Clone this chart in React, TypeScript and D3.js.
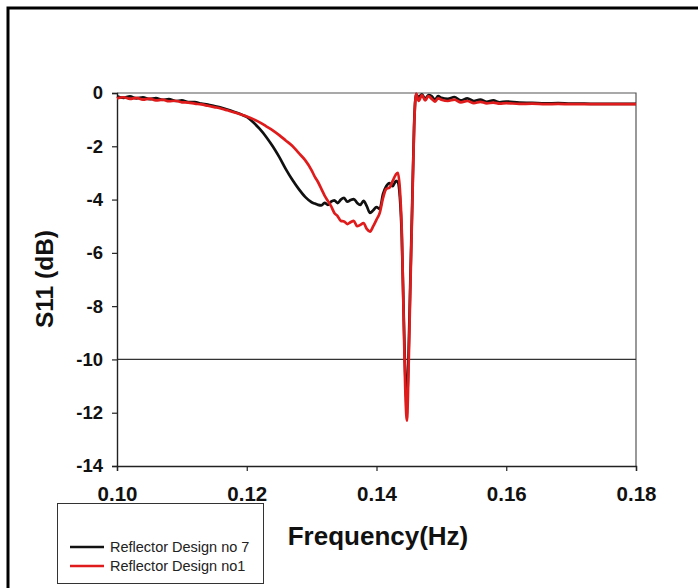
import React, { useEffect, useRef } from 'react';
import * as d3 from 'd3';

// frequency samples (Hz), shared by both series
const freq = [
  0.100, 0.101, 0.102, 0.103, 0.104, 0.105, 0.106, 0.107, 0.108, 0.109, 0.110,
  0.111, 0.112, 0.113, 0.114, 0.115, 0.116, 0.117, 0.118, 0.119, 0.120,
  0.121, 0.122, 0.123, 0.124, 0.125, 0.126, 0.127, 0.128, 0.129, 0.130,
  0.1305, 0.131, 0.1315, 0.132, 0.1325, 0.133, 0.1335, 0.134, 0.1345, 0.135, 0.1355, 0.136, 0.1365,
  0.137, 0.1375, 0.138, 0.1385, 0.139, 0.1395, 0.140, 0.1405, 0.141, 0.1415, 0.142, 0.1425,
  0.1430, 0.1433, 0.1436, 0.1439, 0.1442, 0.1445, 0.1447, 0.1449, 0.1452, 0.1455, 0.1458, 0.1461, 0.1465,
  0.147, 0.1475, 0.148, 0.1485, 0.149, 0.1495, 0.150,
  0.151, 0.152, 0.153, 0.154, 0.155, 0.156, 0.157, 0.158, 0.159, 0.160,
  0.162, 0.164, 0.166, 0.168, 0.170, 0.172, 0.174, 0.176, 0.178, 0.180,
];

// S11 (dB) - Reflector Design no 7
const design7 = [
  -0.12, -0.18, -0.13, -0.20, -0.16, -0.23, -0.19, -0.26, -0.23, -0.30, -0.28,
  -0.34, -0.34, -0.40, -0.43, -0.49, -0.55, -0.62, -0.70, -0.79, -0.90,
  -1.10, -1.35, -1.65, -2.00, -2.40, -2.85, -3.25, -3.60, -3.90, -4.10,
  -4.15, -4.20, -4.22, -4.12, -4.20, -4.08, -4.03, -4.13, -4.00, -3.94, -4.08, -4.02, -3.98,
  -4.12, -4.20, -4.05, -4.25, -4.50, -4.40, -4.28, -4.35, -3.80, -3.50, -3.38, -3.50,
  -3.30, -3.35, -3.90, -5.40, -8.40, -11.0, -11.6, -10.2, -7.2, -4.2, -1.2, -0.05, -0.15,
  -0.05, -0.22, -0.08, -0.12, -0.25, -0.12, -0.18,
  -0.22, -0.15, -0.28, -0.20, -0.30, -0.25, -0.33, -0.28, -0.35, -0.32,
  -0.36, -0.37, -0.39, -0.38, -0.40, -0.40, -0.41, -0.41, -0.41, -0.41,
];

// S11 (dB) - Reflector Design no1
const design1 = [
  -0.20, -0.16, -0.22, -0.18, -0.25, -0.21, -0.28, -0.25, -0.31, -0.29, -0.35,
  -0.36, -0.40, -0.43, -0.48, -0.53, -0.58, -0.65, -0.72, -0.80, -0.88,
  -0.98, -1.10, -1.25, -1.40, -1.58, -1.78, -1.98, -2.25, -2.52, -2.90,
  -3.15, -3.35, -3.60, -3.85, -4.05, -4.25, -4.50, -4.62, -4.80, -4.82, -4.92, -4.85, -4.80,
  -5.00, -4.95, -4.88, -5.10, -5.20, -5.00, -4.75, -4.50, -3.95, -3.60, -3.55, -3.30,
  -3.05, -3.00, -3.60, -5.20, -8.60, -11.6, -12.3, -10.8, -7.5, -4.4, -1.3, -0.02, -0.30,
  -0.08, -0.28, -0.12, -0.22, -0.32, -0.20, -0.25,
  -0.30, -0.25, -0.35, -0.30, -0.38, -0.33, -0.39, -0.36, -0.40, -0.38,
  -0.41, -0.40, -0.42, -0.41, -0.42, -0.42, -0.42, -0.42, -0.42, -0.42,
];

const xTicks = [0.10, 0.12, 0.14, 0.16, 0.18];
const yTicks = [0, -2, -4, -6, -8, -10, -12, -14];
const seriesNames = ['Reflector Design no 7', 'Reflector Design no1'];
const seriesColors = ['#111111', '#e01b1b'];

const W = 698;
const H = 588;
const FONT = 'Arial, "Liberation Sans", sans-serif';

export default function App() {
  const ref = useRef<SVGSVGElement | null>(null);

  useEffect(() => {
    const svg = d3.select(ref.current);
    svg.selectAll('*').remove();

    const x = d3.scaleLinear().domain([0.10, 0.18]).range([117, 636]);
    const y = d3.scaleLinear().domain([-14, 0]).range([466, 93]);

    // outer frame
    svg.append('rect')
      .attr('x', 8).attr('y', 8)
      .attr('width', W + 20).attr('height', H + 20)
      .attr('fill', 'none').attr('stroke', '#000').attr('stroke-width', 3);

    // top and right frame of plot
    svg.append('path')
      .attr('d', `M${x(0.10)},${y(0)}H${x(0.18)}V${y(-14)}`)
      .attr('fill', 'none').attr('stroke', '#555').attr('stroke-width', 1.2);

    // -10 dB reference line
    svg.append('line')
      .attr('x1', x(0.10)).attr('x2', x(0.18))
      .attr('y1', y(-10)).attr('y2', y(-10))
      .attr('stroke', '#333').attr('stroke-width', 1.2);

    const yAxis = svg.append('g')
      .attr('transform', `translate(${x(0.10)},0)`)
      .call(d3.axisLeft(y).tickValues(yTicks).tickSize(5).tickPadding(9)
        .tickFormat(d => String(d)));
    const xAxis = svg.append('g')
      .attr('transform', `translate(0,${y(-14)})`)
      .call(d3.axisBottom(x).tickValues(xTicks).tickSize(5).tickPadding(15)
        .tickFormat(d => (d as number).toFixed(2)));

    [yAxis, xAxis].forEach(g => {
      g.select('.domain').attr('stroke', '#222').attr('stroke-width', 1.4);
      g.selectAll('.tick line').attr('stroke', '#222').attr('stroke-width', 1.2);
      g.selectAll('.tick text')
        .attr('font-family', FONT).attr('font-weight', 'bold').attr('fill', '#111');
    });
    yAxis.selectAll('.tick text').attr('font-size', 18.5);
    xAxis.selectAll('.tick text').attr('font-size', 20.5);

    const line = d3.line<number>()
      .x((_, i) => x(freq[i]))
      .y(d => y(d))
      .curve(d3.curveMonotoneX);

    [design7, design1].forEach((vals, k) => {
      svg.append('path')
        .datum(vals)
        .attr('d', line)
        .attr('fill', 'none')
        .attr('stroke', seriesColors[k])
        .attr('stroke-width', 2.7)
        .attr('stroke-linejoin', 'round');
    });

    // axis titles
    svg.append('text')
      .attr('transform', 'translate(53,279) rotate(-90)')
      .attr('text-anchor', 'middle')
      .attr('font-family', FONT).attr('font-weight', 'bold').attr('font-size', 24.5)
      .attr('fill', '#111')
      .text('S11 (dB)');
    svg.append('text')
      .attr('x', 378).attr('y', 545)
      .attr('text-anchor', 'middle')
      .attr('font-family', FONT).attr('font-weight', 'bold').attr('font-size', 26)
      .attr('fill', '#111')
      .text('Frequency(Hz)');

    // legend
    const lg = svg.append('g');
    lg.append('rect')
      .attr('x', 57.5).attr('y', 503.5).attr('width', 206).attr('height', 80)
      .attr('fill', '#fff').attr('stroke', '#333').attr('stroke-width', 1);
    seriesNames.forEach((name, k) => {
      const yy = 547 + k * 19;
      lg.append('line')
        .attr('x1', 70).attr('x2', 104).attr('y1', yy).attr('y2', yy)
        .attr('stroke', seriesColors[k]).attr('stroke-width', 2.6);
      lg.append('text')
        .attr('x', 110).attr('y', yy + 5)
        .attr('font-family', FONT).attr('font-size', 14.5).attr('fill', '#222')
        .text(name);
    });
  }, []);

  return (
    <svg
      ref={ref}
      width={W}
      height={H}
      style={{ position: 'absolute', left: 0, top: 0, background: '#fff' }}
    />
  );
}
